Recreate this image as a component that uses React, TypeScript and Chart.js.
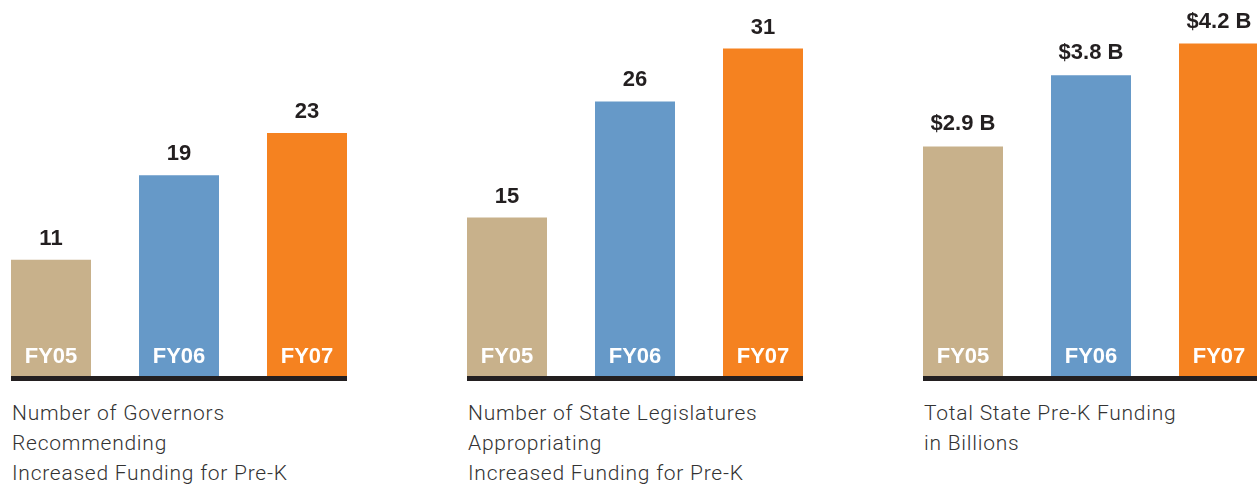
import React, { useEffect, useRef } from "react";
import { Chart, registerables } from "chart.js";

Chart.register(...registerables);

const categories = ["FY05", "FY06", "FY07"];
const governors = [11, 19, 23];
const legislatures = [15, 26, 31];
const funding = [2.9, 3.8, 4.2];
const governorLabels = ["11", "19", "23"];
const legislatureLabels = ["15", "26", "31"];
const fundingLabels = ["$2.9 B", "$3.8 B", "$4.2 B"];
const barColors = ["#c8b18b", "#6699c8", "#f58220"];
const caption1 = ["Number of Governors", "Recommending", "Increased Funding for Pre-K"];
const caption2 = ["Number of State Legislatures", "Appropriating", "Increased Funding for Pre-K"];
const caption3 = ["Total State Pre-K Funding", "in Billions"];

const annotatePlugin = {
  id: "annotate",
  afterDatasetsDraw(chart: any, _args: any, opts: any) {
    const ctx = chart.ctx;
    const bars = chart.getDatasetMeta(0).data;
    const area = chart.chartArea;
    ctx.save();
    const first = bars[0];
    const last = bars[bars.length - 1];
    const x0 = first.x - first.width / 2;
    const x1 = last.x + last.width / 2;
    ctx.fillStyle = "#231f20";
    ctx.fillRect(x0, area.bottom, x1 - x0, 5);
    ctx.font = "bold 22px 'Liberation Sans', Arial, sans-serif";
    ctx.textAlign = "center";
    ctx.textBaseline = "alphabetic";
    bars.forEach((b: any, i: number) => {
      ctx.fillStyle = "#231f20";
      ctx.fillText(opts.valueLabels[i], b.x, b.y - opts.gap);
      ctx.fillStyle = "#ffffff";
      ctx.fillText(categories[i], b.x, area.bottom - 13);
    });
    ctx.restore();
  },
};

type PanelProps = {
  values: number[];
  valueLabels: string[];
  yMax: number;
  left: number;
  gap: number;
  caption: string[];
};

function Panel({ values, valueLabels, yMax, left, gap, caption }: PanelProps) {
  const ref = useRef<HTMLCanvasElement>(null);
  useEffect(() => {
    if (!ref.current) return;
    const chart = new Chart(ref.current, {
      type: "bar",
      data: {
        labels: categories,
        datasets: [
          {
            data: values,
            backgroundColor: barColors,
            borderWidth: 0,
            categoryPercentage: 1,
            barPercentage: 0.625,
          },
        ],
      },
      options: {
        animation: false,
        responsive: false,
        maintainAspectRatio: false,
        devicePixelRatio: 1,
        layout: { padding: { top: 0, bottom: 14, left: 0, right: 0 } },
        scales: {
          x: { display: false },
          y: { display: false, min: 0, max: yMax },
        },
        plugins: {
          legend: { display: false },
          tooltip: { enabled: false },
          annotate: { valueLabels, gap },
        } as any,
      },
      plugins: [annotatePlugin],
    });
    return () => chart.destroy();
  }, []);
  return (
    <>
      <canvas
        ref={ref}
        width={384}
        height={390}
        style={{ position: "absolute", left: left - 24, top: 0, width: 384, height: 390 }}
      />
      <div
        style={{
          position: "absolute",
          left: left + 1,
          top: 398,
          fontFamily: "Roboto, 'Liberation Sans', sans-serif",
          fontWeight: 300,
          fontSize: 21,
          letterSpacing: "0.75px",
          lineHeight: "30px",
          color: "#333333",
          whiteSpace: "nowrap",
        }}
      >
        {caption.map((c, i) => (
          <div key={i}>{c}</div>
        ))}
      </div>
    </>
  );
}

export default function App() {
  return (
    <div
      style={{
        position: "fixed",
        left: 0,
        top: 0,
        width: 1257,
        height: 487,
        overflow: "hidden",
        background: "#ffffff",
      }}
    >
      <Panel values={governors} valueLabels={governorLabels} yMax={35.6} left={11} gap={15} caption={caption1} />
      <Panel values={legislatures} valueLabels={legislatureLabels} yMax={35.6} left={467} gap={15} caption={caption2} />
      <Panel values={funding} valueLabels={fundingLabels} yMax={4.75} left={923} gap={16} caption={caption3} />
    </div>
  );
}
